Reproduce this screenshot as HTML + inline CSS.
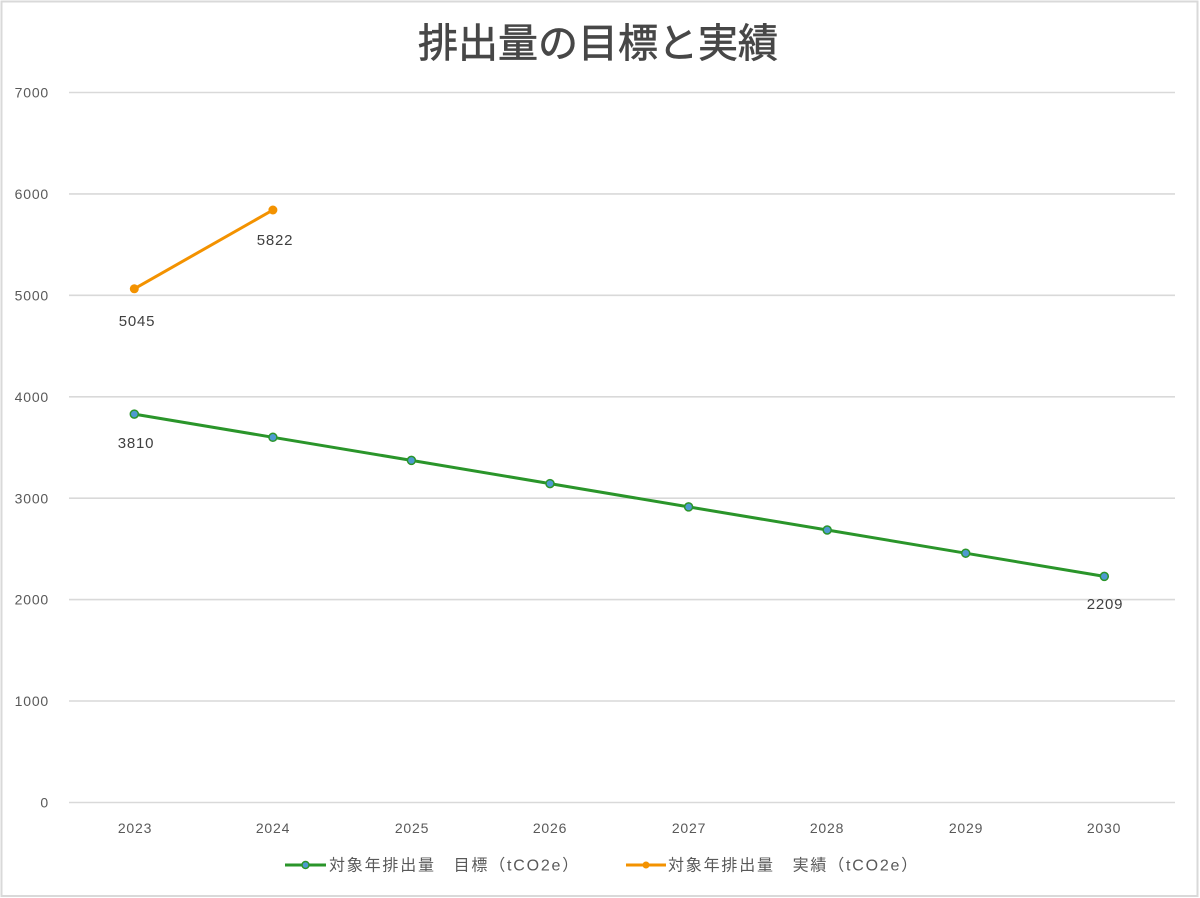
<!DOCTYPE html>
<html><head><meta charset="utf-8"><style>
html,body{margin:0;padding:0;background:#fff;}
svg{display:block;}
text{font-family:"Liberation Sans","Noto Sans CJK JP",sans-serif;}
</style></head><body>
<svg width="1200" height="898" viewBox="0 0 1200 898" xmlns="http://www.w3.org/2000/svg">
<rect x="0" y="0" width="1200" height="898" fill="#fff"/>
<rect x="1.5" y="1.5" width="1196" height="894.5" fill="none" stroke="#d9d9d9" stroke-width="2"/>
<text x="598" y="57" text-anchor="middle" font-size="40" fill="#474747" stroke="#474747" stroke-width="0.7" style="font-family:'Noto Sans CJK JP',sans-serif">排出量の目標と実績</text>
<g stroke="#d9d9d9" stroke-width="1.6">
<line x1="69" y1="92.5" x2="1175" y2="92.5"/>
<line x1="69" y1="193.9" x2="1175" y2="193.9"/>
<line x1="69" y1="295.3" x2="1175" y2="295.3"/>
<line x1="69" y1="396.8" x2="1175" y2="396.8"/>
<line x1="69" y1="498.2" x2="1175" y2="498.2"/>
<line x1="69" y1="599.6" x2="1175" y2="599.6"/>
<line x1="69" y1="701" x2="1175" y2="701"/>
<line x1="69" y1="802.5" x2="1175" y2="802.5"/>
</g>
<g font-size="14" fill="#595959" text-anchor="end" letter-spacing="0.8">
<text x="49" y="97.5">7000</text>
<text x="49" y="199">6000</text>
<text x="49" y="300.5">5000</text>
<text x="49" y="402">4000</text>
<text x="49" y="503.5">3000</text>
<text x="49" y="604.5">2000</text>
<text x="49" y="706">1000</text>
<text x="49" y="807.5">0</text>
</g>
<g font-size="14" fill="#595959" text-anchor="middle" letter-spacing="0.8">
<text x="135" y="833">2023</text>
<text x="273" y="833">2024</text>
<text x="412" y="833">2025</text>
<text x="550" y="833">2026</text>
<text x="689" y="833">2027</text>
<text x="827" y="833">2028</text>
<text x="966" y="833">2029</text>
<text x="1104" y="833">2030</text>
</g>
<polyline fill="none" stroke="#2a952a" stroke-width="3" points="134.3,414.1 272.9,437.3 411.4,460.4 550,483.6 688.6,506.9 827.2,530 965.7,553.2 1104.3,576.4"/>
<g fill="#4e9ad0" stroke="#2a952a" stroke-width="1.5">
<circle cx="134.3" cy="414.1" r="4"/>
<circle cx="272.9" cy="437.3" r="4"/>
<circle cx="411.4" cy="460.4" r="4"/>
<circle cx="550" cy="483.6" r="4"/>
<circle cx="688.6" cy="506.9" r="4"/>
<circle cx="827.2" cy="530" r="4"/>
<circle cx="965.7" cy="553.2" r="4"/>
<circle cx="1104.3" cy="576.4" r="4"/>
</g>
<polyline fill="none" stroke="#f39200" stroke-width="3" points="134.3,288.8 272.9,210"/>
<g fill="#f39200">
<circle cx="134.3" cy="288.8" r="4.5"/>
<circle cx="272.9" cy="210" r="4.5"/>
</g>
<g font-size="15" fill="#404040" text-anchor="middle" letter-spacing="0.8">
<text x="137" y="326">5045</text>
<text x="275" y="245">5822</text>
<text x="136" y="448">3810</text>
<text x="1105" y="609">2209</text>
</g>
<line x1="285" y1="865" x2="326" y2="865" stroke="#2a952a" stroke-width="3"/>
<circle cx="305.5" cy="865" r="3.5" fill="#4e9ad0" stroke="#2a952a" stroke-width="1.5"/>
<text x="329" y="870.5" font-size="16" fill="#595959" letter-spacing="1.8">対象年排出量　目標（tCO2e）</text>
<line x1="626" y1="865" x2="666" y2="865" stroke="#f39200" stroke-width="3"/>
<circle cx="646" cy="865" r="3.5" fill="#f39200"/>
<text x="668" y="870.5" font-size="16" fill="#595959" letter-spacing="1.8">対象年排出量　実績（tCO2e）</text>
</svg>
</body></html>
